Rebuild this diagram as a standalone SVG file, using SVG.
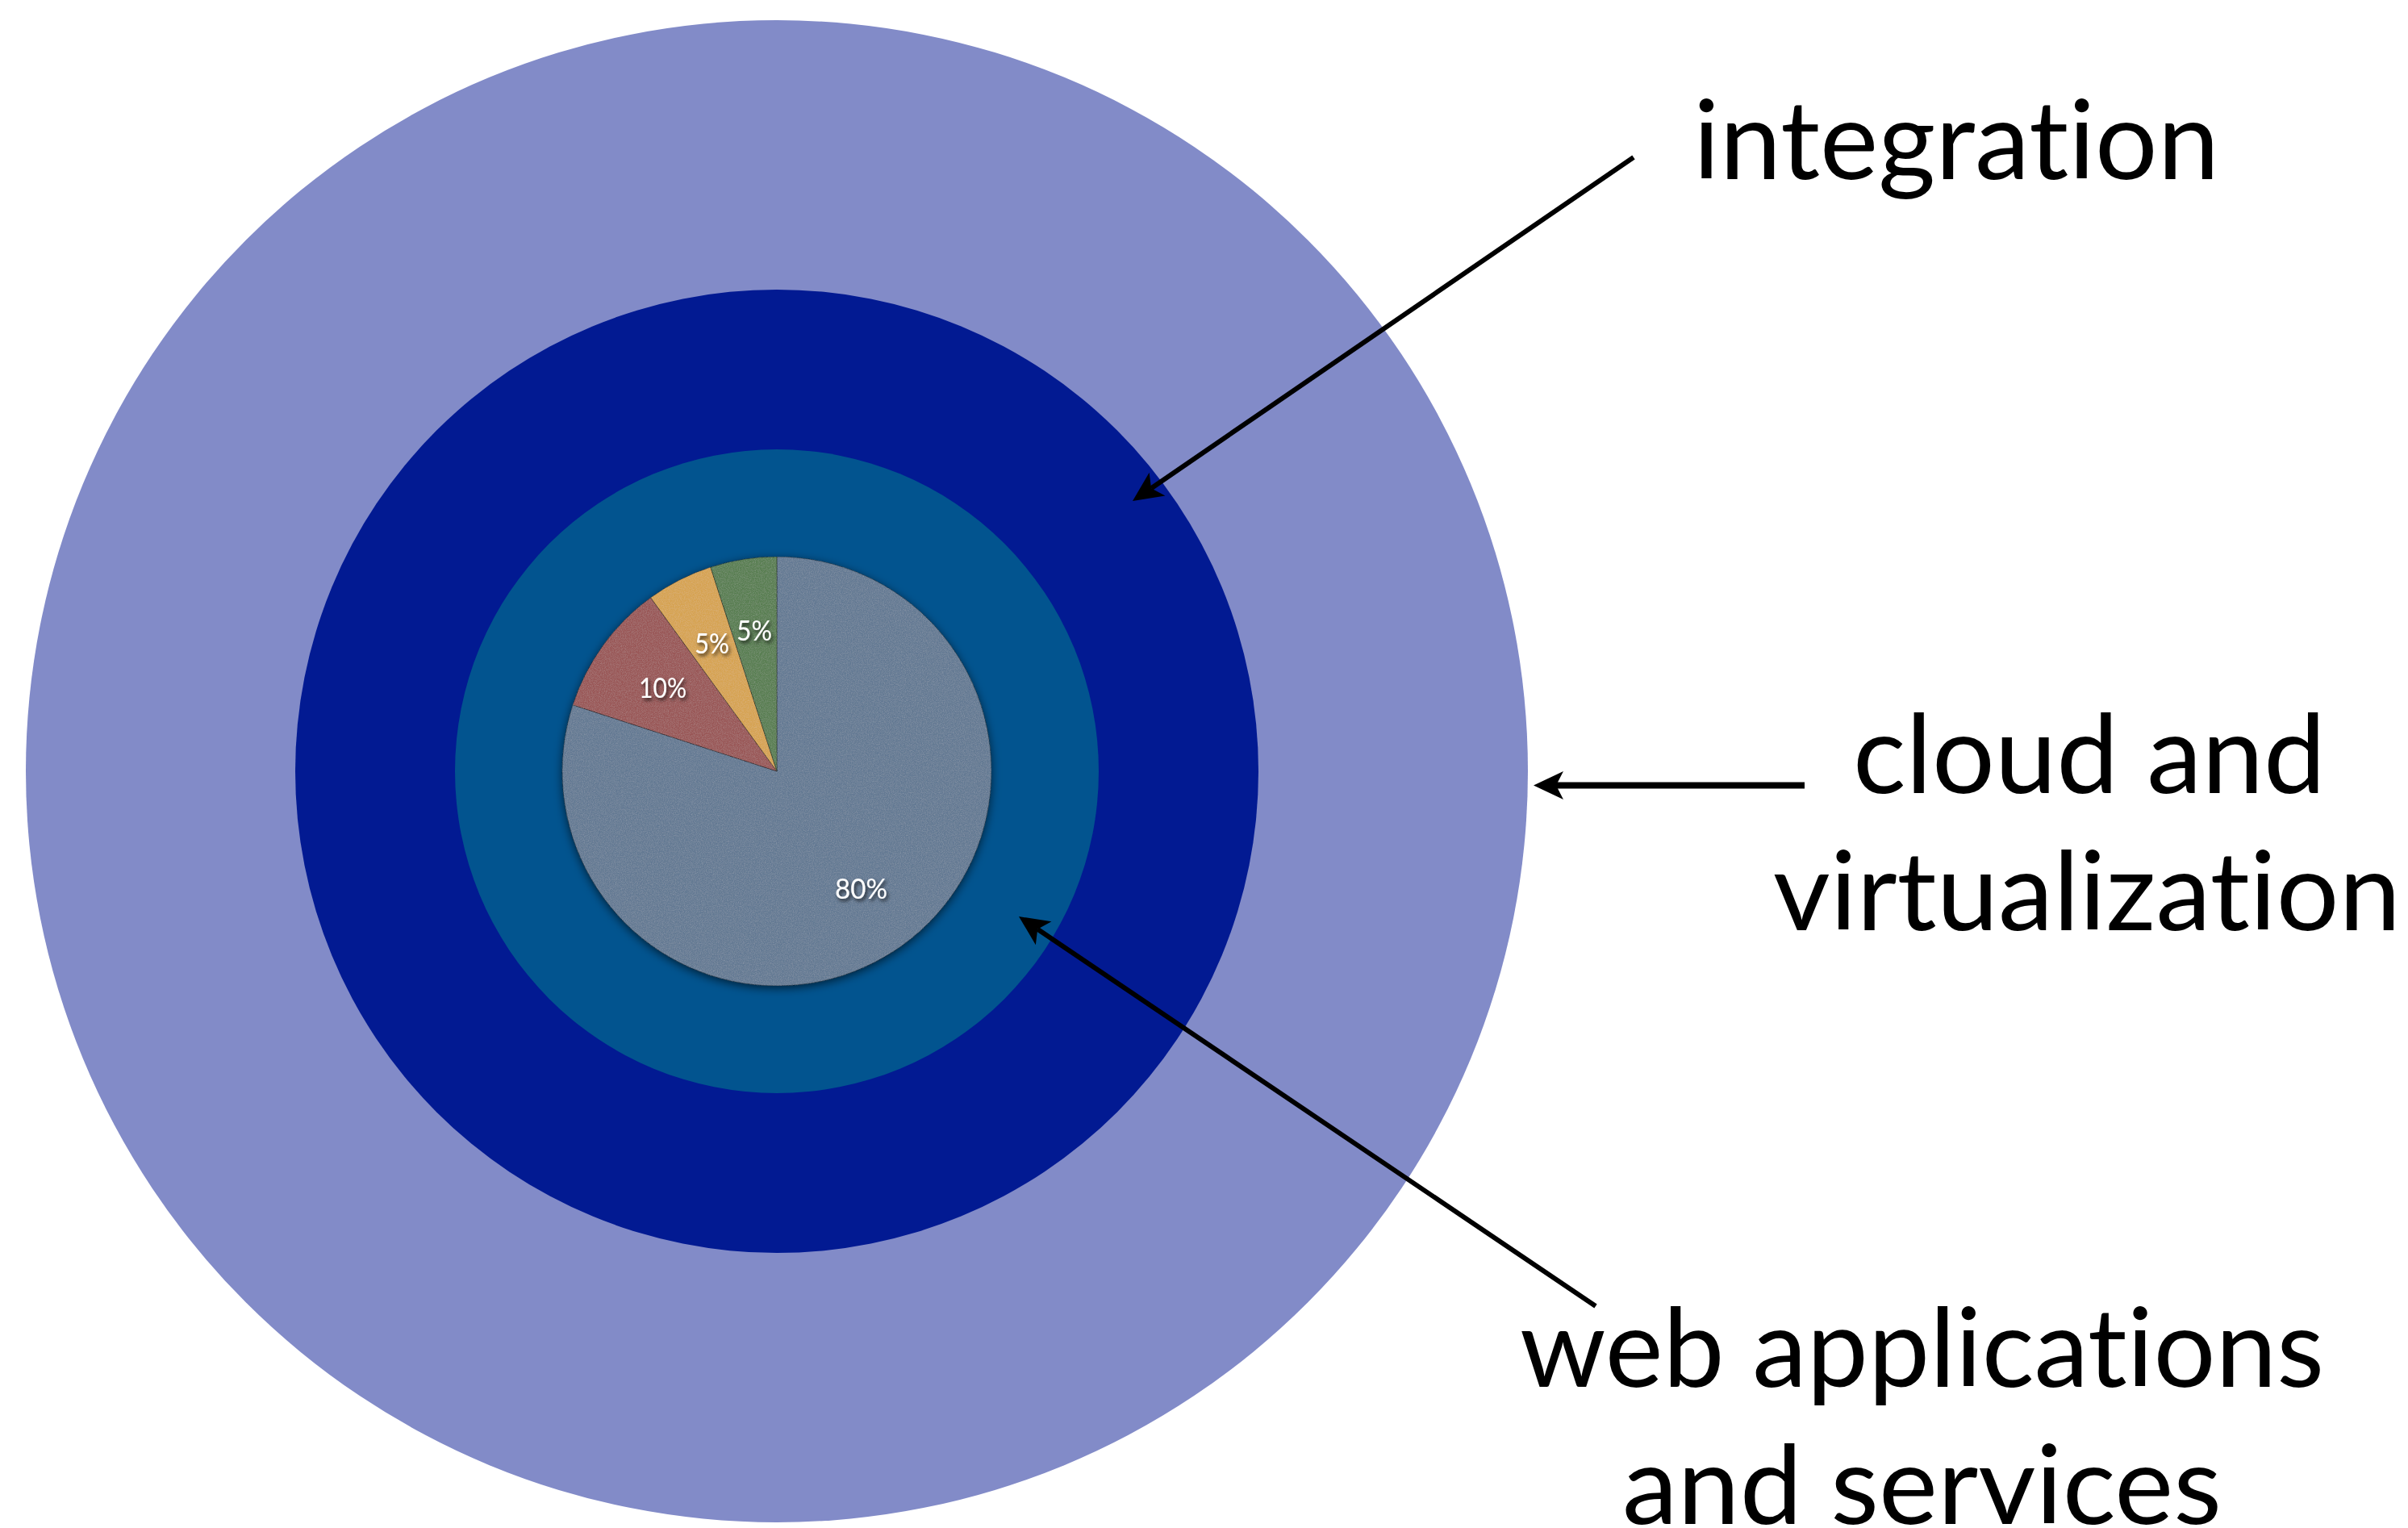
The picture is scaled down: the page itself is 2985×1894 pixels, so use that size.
<svg xmlns="http://www.w3.org/2000/svg" width="2985" height="1894" viewBox="0 0 2985 1894">
  <style>
    .lbl { font-family: Lato, "Open Sans", "Liberation Sans", sans-serif; font-size: 136px; fill: #000; font-variant-ligatures: none; font-feature-settings: "liga" 0, "clig" 0; }
    .pct { font-family: Lato, "Open Sans", "Liberation Sans", sans-serif; font-size: 35px; fill: #fff; }
    .conn { stroke: #000; fill: none; stroke-linecap: butt; }
    .slice { stroke: rgba(0,0,0,0.35); stroke-width: 1; }
  </style>
  <defs>
    <marker id="ah" markerUnits="userSpaceOnUse" orient="auto" overflow="visible" markerWidth="1" markerHeight="1" refX="0" refY="0">
      <path d="M28,0 L-9,-17.5 L0,0 L-9,17.5 Z" fill="#000"/>
    </marker>
    <filter id="pieShadow" x="-20%" y="-20%" width="140%" height="140%">
      <feDropShadow dx="0" dy="3" stdDeviation="6" flood-color="#000" flood-opacity="0.6"/>
    </filter>
    <filter id="tex" x="0" y="0" width="100%" height="100%">
      <feTurbulence type="fractalNoise" baseFrequency="0.85" numOctaves="2" seed="4" result="n"/>
      <feColorMatrix in="n" type="matrix" values="0 0 0 0 1  0 0 0 0 1  0 0 0 0 1  0.22 0 0 0 -0.08" result="na"/>
      <feComposite in="na" in2="SourceGraphic" operator="in" result="nm"/>
      <feMerge><feMergeNode in="SourceGraphic"/><feMergeNode in="nm"/></feMerge>
    </filter>
    <filter id="txtShadow" x="-20%" y="-30%" width="140%" height="160%">
      <feDropShadow dx="2" dy="3" stdDeviation="2" flood-color="#000" flood-opacity="0.75"/>
    </filter>
  </defs>

  <rect width="2985" height="1894" fill="#fff"/>

  <g id="ring-cloud">
    <circle cx="963" cy="956" r="931" fill="#828bc8"/>
  </g>
  <g id="ring-integration">
    <circle cx="963" cy="956" r="597" fill="#021a92"/>
  </g>
  <g id="ring-web">
    <circle cx="963" cy="956" r="399" fill="#02548f"/>
  </g>

  <g id="pie" filter="url(#pieShadow)">
    <g filter="url(#tex)">
      <path class="slice" d="M963,956 L963,690 A266,266 0 1 1 710,873.8 Z" fill="#637993"/>
      <path class="slice" d="M963,956 L710,873.8 A266,266 0 0 1 806.6,740.8 Z" fill="#995757"/>
      <path class="slice" d="M963,956 L806.6,740.8 A266,266 0 0 1 880.8,703 Z" fill="#d6a351"/>
      <path class="slice" d="M963,956 L880.8,703 A266,266 0 0 1 963,690 Z" fill="#587e51"/>
    </g>
  </g>
  <g id="pie-labels" filter="url(#txtShadow)">
    <text class="pct" x="1035" y="1113.5" textLength="65" lengthAdjust="spacingAndGlyphs">80%</text>
    <text class="pct" x="792" y="864.7" textLength="59" lengthAdjust="spacingAndGlyphs">10%</text>
    <text class="pct" x="861" y="810.4" textLength="43" lengthAdjust="spacingAndGlyphs">5%</text>
    <text class="pct" x="913" y="794" textLength="44" lengthAdjust="spacingAndGlyphs">5%</text>
  </g>

  <g id="connectors">
    <line class="conn" x1="2025" y1="195" x2="1427.1" y2="605.2" stroke-width="6" marker-end="url(#ah)"/>
    <line class="conn" x1="2237" y1="973.5" x2="1929" y2="973.5" stroke-width="8" marker-end="url(#ah)"/>
    <line class="conn" x1="1978" y1="1619" x2="1286.2" y2="1151.7" stroke-width="6" marker-end="url(#ah)"/>
  </g>

  <g id="label-integration">
    <text class="lbl" x="2099" y="222" textLength="652" lengthAdjust="spacingAndGlyphs">integration</text>
  </g>
  <g id="label-cloud">
    <text class="lbl" x="2297" y="983" textLength="586" lengthAdjust="spacingAndGlyphs">cloud and</text>
    <text class="lbl" x="2198" y="1153" textLength="778" lengthAdjust="spacingAndGlyphs">virtualization</text>
  </g>
  <g id="label-web">
    <text class="lbl" x="1884" y="1719" textLength="997" lengthAdjust="spacingAndGlyphs">web applications</text>
    <text class="lbl" x="2011" y="1889" textLength="743" lengthAdjust="spacingAndGlyphs">and services</text>
  </g>
</svg>
